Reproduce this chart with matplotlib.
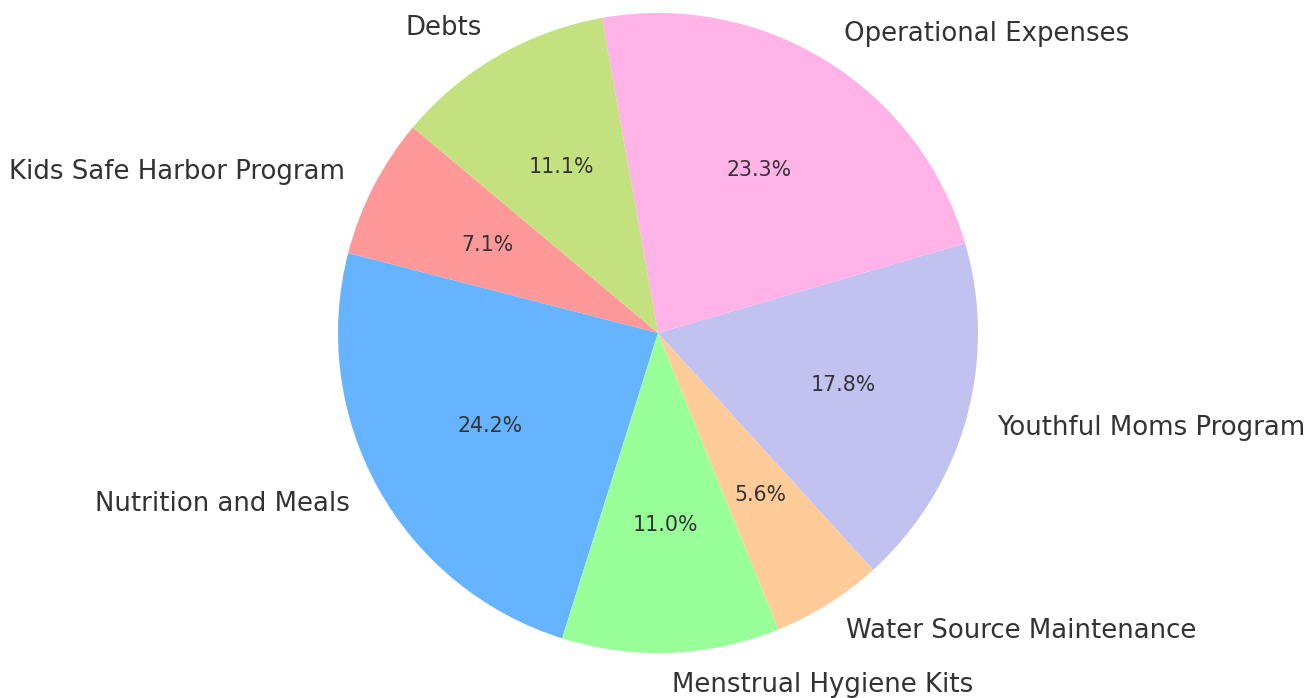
import matplotlib
matplotlib.use("Agg")
import matplotlib.pyplot as plt

categories = ["Kids Safe Harbor Program", "Nutrition and Meals", "Menstrual Hygiene Kits",
              "Water Source Maintenance", "Youthful Moms Program", "Operational Expenses", "Debts"]
values = [7.1, 24.2, 11.0, 5.6, 17.8, 23.3, 11.1]
colors = ["#ff9999", "#66b3ff", "#99ff99", "#ffcc99", "#c2c2f0", "#ffb3e6", "#c4e17f"]

W, H, dpi = 13.15, 6.98, 100
fig = plt.figure(figsize=(W, H), dpi=dpi)
cx, cy, r = 658, 698 - 333, 320
# axes such that unit radius = r px; axis limits set to +-1.25
half = 1.25 * r
ax = fig.add_axes([(cx - half) / (W * dpi), (cy - half) / (H * dpi), 2 * half / (W * dpi), 2 * half / (H * dpi)])
wedges, texts, autotexts = ax.pie(values, labels=categories, colors=colors, autopct="%1.1f%%",
                                  startangle=140, textprops={"color": "#333333"})
for t in texts:
    t.set_fontsize(18.7)
for t in autotexts:
    t.set_fontsize(14.8)
ax.set_xlim(-1.25, 1.25)
ax.set_ylim(-1.25, 1.25)
ax.set_aspect("equal")
fig.savefig("out.png", dpi=dpi, facecolor="white")
